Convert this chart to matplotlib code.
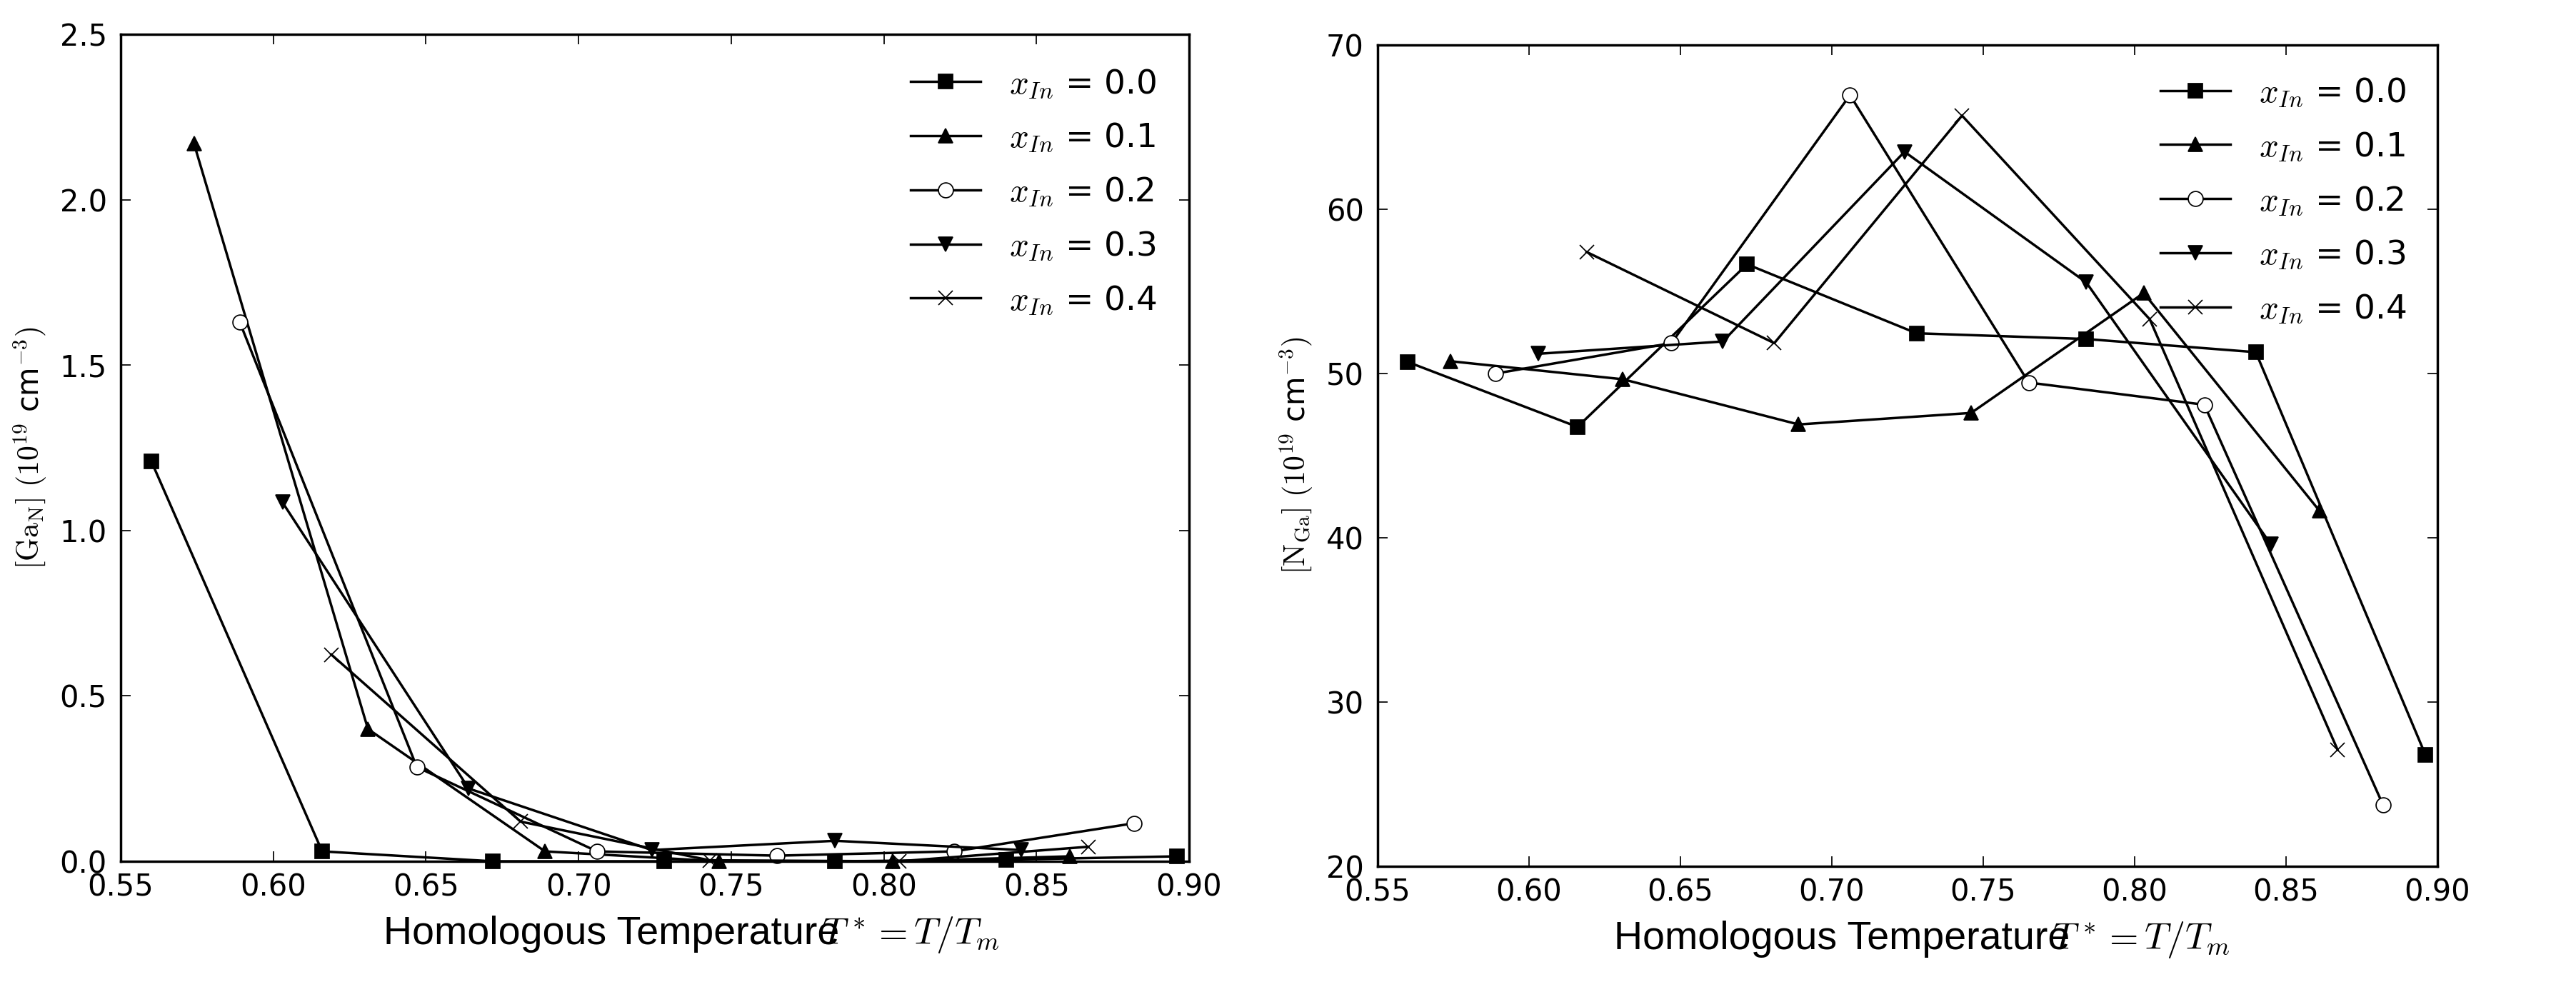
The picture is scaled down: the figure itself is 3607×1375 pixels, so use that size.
import matplotlib
matplotlib.use('Agg')
import matplotlib.pyplot as plt
from matplotlib.ticker import FormatStrFormatter

# ---------------- data ----------------
labels = [r'$x_{In}$ = 0.0', r'$x_{In}$ = 0.1', r'$x_{In}$ = 0.2',
          r'$x_{In}$ = 0.3', r'$x_{In}$ = 0.4']

t_x00 = [0.560, 0.616, 0.672, 0.728, 0.784, 0.840, 0.896]
t_x01 = [0.574, 0.631, 0.689, 0.746, 0.803, 0.861]
t_x02 = [0.589, 0.647, 0.706, 0.765, 0.823, 0.882]
t_x03 = [0.603, 0.664, 0.724, 0.784, 0.845]
t_x04 = [0.619, 0.681, 0.743, 0.805, 0.867]

gan_x00 = [1.21, 0.03, 0.0, 0.0, 0.0, 0.005, 0.015]
gan_x01 = [2.17, 0.40, 0.03, 0.0, 0.0, 0.015]
gan_x02 = [1.63, 0.285, 0.03, 0.017, 0.03, 0.115]
gan_x03 = [1.085, 0.22, 0.034, 0.062, 0.034]
gan_x04 = [0.625, 0.12, 0.003, 0.0, 0.044]

nga_x00 = [50.7, 46.75, 56.65, 52.45, 52.1, 51.3, 26.8]
nga_x01 = [50.75, 49.65, 46.9, 47.6, 54.9, 41.65]
nga_x02 = [50.0, 51.85, 66.95, 49.45, 48.1, 23.75]
nga_x03 = [51.2, 51.95, 63.5, 55.55, 39.6]
nga_x04 = [57.4, 51.85, 65.7, 53.3, 27.1]

x_ticks = [0.55, 0.60, 0.65, 0.70, 0.75, 0.80, 0.85, 0.90]
left_yticks = [0.0, 0.5, 1.0, 1.5, 2.0, 2.5]
right_yticks = [20, 30, 40, 50, 60, 70]

# ---------------- style ----------------
plt.rcParams.update({
    'font.family': ['DejaVu Sans'],
    'mathtext.fontset': 'cm',
    'font.size': 12,
    'lines.linewidth': 1.0,
    'lines.markersize': 6,
    'lines.markeredgewidth': 0.5,
    'axes.linewidth': 1.0,
    'xtick.direction': 'in', 'ytick.direction': 'in',
    'xtick.top': True, 'ytick.right': True,
    'xtick.major.size': 4, 'ytick.major.size': 4,
    'xtick.major.width': 0.5, 'ytick.major.width': 0.5,
    'xtick.major.pad': 4.5, 'ytick.major.pad': 5.5,
    'xtick.labelsize': 12, 'ytick.labelsize': 12,
})

W, H = 3607, 1375
DPI = 250
fig = plt.figure(figsize=(W / DPI, H / DPI), dpi=DPI, facecolor='white')

def frac_box(l, t, r, b):
    return [l / W, 1 - b / H, (r - l) / W, (b - t) / H]

ax1 = fig.add_axes(frac_box(169, 48, 1665, 1206))
ax2 = fig.add_axes(frac_box(1929, 63, 3413, 1213))

styles = [
    dict(marker='s', mfc='black', mec='black'),
    dict(marker='^', mfc='black', mec='black'),
    dict(marker='o', mfc='white', mec='black'),
    dict(marker='v', mfc='black', mec='black'),
    dict(marker='x', mfc='black', mec='black'),
]

t_all = [t_x00, t_x01, t_x02, t_x03, t_x04]
gan_all = [gan_x00, gan_x01, gan_x02, gan_x03, gan_x04]
nga_all = [nga_x00, nga_x01, nga_x02, nga_x03, nga_x04]

for ax, ys in ((ax1, gan_all), (ax2, nga_all)):
    for t, y, st, lab in zip(t_all, ys, styles, labels):
        ax.plot(t, y, color='black', label=lab, clip_on=False, **st)
    ax.set_xlim(0.55, 0.90)
    ax.set_xticks(x_ticks)
    ax.xaxis.set_major_formatter(FormatStrFormatter('%.2f'))

ax1.set_ylim(0, 2.5)
ax1.set_yticks(left_yticks)
ax1.yaxis.set_major_formatter(FormatStrFormatter('%.1f'))
ax2.set_ylim(20, 70)
ax2.set_yticks(right_yticks)

ax1.set_ylabel(r'$[\mathrm{Ga_N}]\ (10^{19}$ cm$^{-3})$', fontsize=12, va='center')
ax1.yaxis.set_label_coords((42 - 169) / 1496, 0.5)
ax2.set_ylabel(r'$[\mathrm{N_{Ga}}]\ (10^{19}$ cm$^{-3})$', fontsize=12, va='center')
ax2.yaxis.set_label_coords((1815 - 1929) / 1484, 0.5)

leg_kw = dict(loc='upper right', frameon=False, numpoints=1, borderaxespad=0,
              borderpad=0, handlelength=2.1, handletextpad=0.85,
              labelspacing=0.63, fontsize=13.5)
ax1.legend(bbox_to_anchor=(0.970, 0.960), **leg_kw)
ax2.legend(bbox_to_anchor=(0.971, 0.962), **leg_kw)

# x labels (text part overlapped by the formula, as in the reference)
for x0, base in ((537, 1322), (2260, 1329)):
    fig.text(x0 / W, 1 - base / H, 'Homologous Temperature',
             family='Liberation Sans', fontsize=16, ha='left', va='baseline')
    fig.text((x0 + 613) / W, 1 - base / H, r'$T^* = T/T_m$',
             fontsize=15, ha='left', va='baseline')

fig.savefig('out.png', dpi=DPI, facecolor='white')
